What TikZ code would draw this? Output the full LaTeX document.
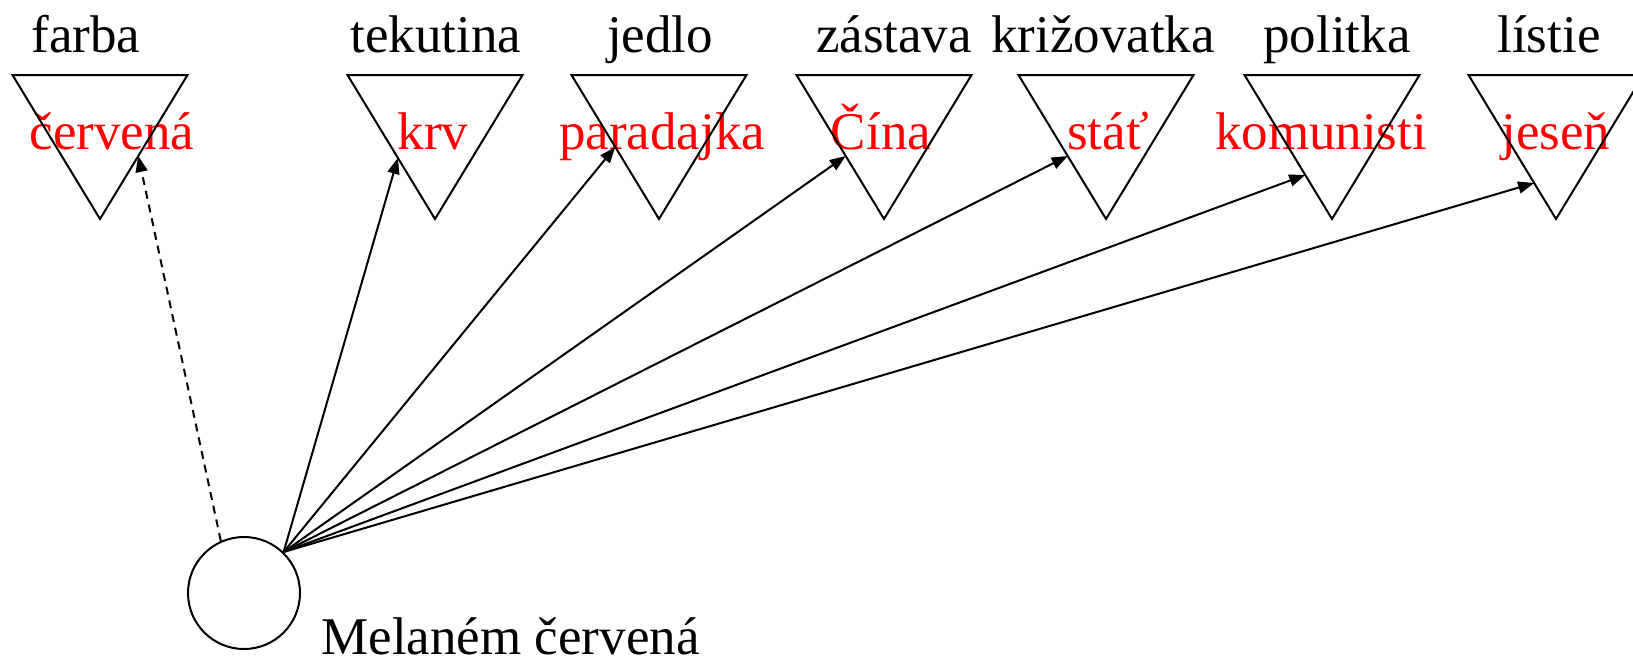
\documentclass[tikz,border=0pt]{standalone}
\usepackage{fontspec}
\setmainfont{Liberation Serif}
\usetikzlibrary{arrows.meta,calc}
\tikzset{
  lbl/.style={anchor=base,inner sep=0pt,font=\fontsize{26.5}{30}\selectfont},
  redlbl/.style={lbl,text=red},
  tri/.style={line width=1pt,line join=miter},
  arr/.style={line width=1pt,-{Triangle[length=8pt,width=6pt]}},
  darr/.style={arr,dash pattern=on 4pt off 3pt},
  mcirc/.style={circle,draw,line width=1pt,minimum size=56pt,inner sep=0pt}
}
\begin{document}
\begin{tikzpicture}[x=0.5pt,y=-0.5pt]
\useasboundingbox (0,0) rectangle (1633,664);
% red labels
\node[redlbl] (r1) at (112,149) {červená};
\node[redlbl] (r2) at (433,149) {krv};
\node[redlbl] (r3) at (662,149) {paradajka};
\node[redlbl] (r4) at (881,149) {Čína};
\node[redlbl] (r5) at (1108,149) {stáť};
\node[redlbl] (r6) at (1321,149) {komunisti};
\node[redlbl] (r7) at (1556,149) {jeseň};
% black labels
\node[lbl] (l1) at (86,52) {farba};
\node[lbl] (l2) at (436,52) {tekutina};
\node[lbl] (l3) at (660,52) {jedlo};
\node[lbl] (l4) at (894,52) {zástava};
\node[lbl] (l5) at (1103,52) {križovatka};
\node[lbl] (l6) at (1337,52) {politka};
\node[lbl] (l7) at (1549,52) {lístie};
% triangles
\foreach \i/\cx in {1/100,2/435,3/659,4/884,5/1106,6/1332,7/1556}{
  \coordinate (tl\i) at (\cx-87.5,75);
  \coordinate (tr\i) at (\cx+87.5,75);
  \coordinate (ap\i) at (\cx,219);
  \draw[tri] (tl\i) -- (tr\i) -- (ap\i) -- cycle;
}
% circle
\node[mcirc] (m) at (244,593) {};
\node[lbl,anchor=base west] (ml) at (321,654) {Melaném červená};
% arrow ends
\coordinate (e1) at ($(tr1)!0.5625!(ap1)$);
\coordinate (e2) at ($(tl2)!0.576!(ap2)$);
\coordinate (e3) at ($(tl3)!0.5!(ap3)$);
\coordinate (e4) at ($(tl4)!0.5625!(ap4)$);
\coordinate (e5) at ($(tl5)!0.5625!(ap5)$);
\coordinate (e6) at ($(tl6)!0.694!(ap6)$);
\coordinate (e7) at ($(tl7)!0.75!(ap7)$);
\draw[darr] (m.114) -- (e1);
\foreach \i in {2,...,7}{
  \draw[arr] (m.46) -- (e\i);
}
\end{tikzpicture}
\end{document}
